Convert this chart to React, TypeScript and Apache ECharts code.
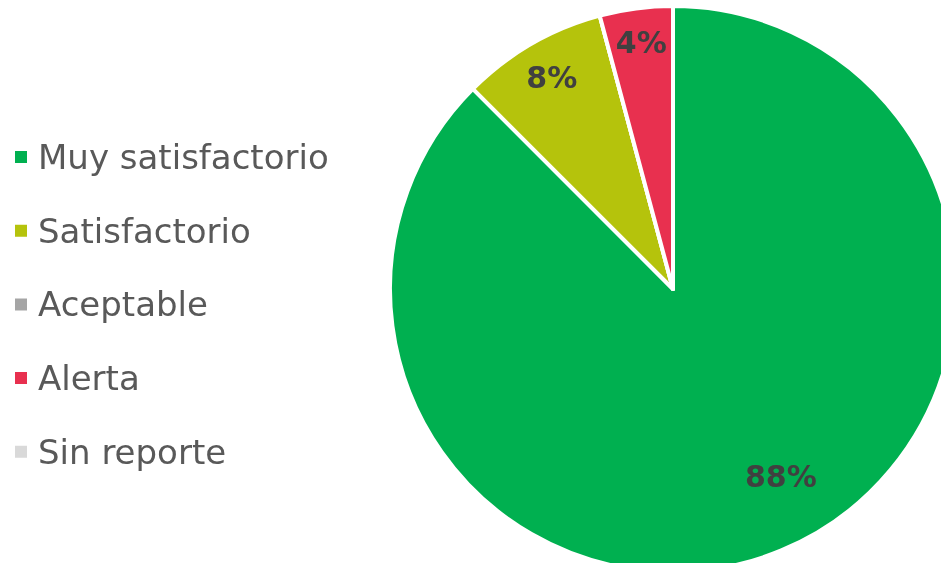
import React, { useEffect, useRef } from "react";
import * as echarts from "echarts";

const categories = ["Muy satisfactorio", "Satisfactorio", "Aceptable", "Alerta", "Sin reporte"];
const values = [21, 2, 0, 1, 0];
const colors = ["#00B050", "#B5C30C", "#A5A5A5", "#E8304F", "#D9D9D9"];

export default function App() {
  const ref = useRef<HTMLDivElement>(null);
  useEffect(() => {
    const chart = echarts.init(ref.current!, undefined, { renderer: "svg" });
    const fmt = (p: any) => (p.value > 0 ? Math.round(p.percent) + "%" : "");
    const labelOffsets: (number[] | null)[] = [[12, -44], [4, 5], null, [1, 2], null];
    chart.setOption({
      animation: false,
      color: colors,
      legend: {
        orient: "vertical",
        left: 8,
        top: 135,
        icon: "rect",
        itemWidth: 14,
        itemHeight: 14,
        itemGap: 39.7,
        data: categories,
        textStyle: {
          fontFamily: "DejaVu Sans",
          fontSize: 34,
          color: "#595959",
          lineHeight: 34,
          padding: [0, 0, 0, 5],
        },
      },
      series: [
        {
          type: "pie",
          center: [673, 289],
          radius: 283,
          startAngle: 90,
          clockwise: true,
          silent: true,
          itemStyle: { borderColor: "#ffffff", borderWidth: 4 },
          label: { show: false },
          labelLine: { show: false },
          data: categories.map((c, i) => ({ name: c, value: values[i] })),
        },
        {
          type: "pie",
          center: [673, 289],
          radius: [195, 300],
          startAngle: 90,
          clockwise: true,
          silent: true,
          legendHoverLink: false,
          itemStyle: { color: "transparent" },
          label: {
            show: true,
            position: "inside",
            formatter: fmt,
            fontFamily: "DejaVu Sans",
            fontWeight: "bold",
            fontSize: 30,
            color: "#404040",
          },
          labelLine: { show: false },
          data: categories.map((c, i) => ({
            name: c,
            value: values[i],
            label: labelOffsets[i] ? { offset: labelOffsets[i] } : undefined,
          })),
        },
      ],
    });
    return () => chart.dispose();
  }, []);
  return (
    <div
      ref={ref}
      style={{ position: "fixed", left: 0, top: 0, width: 941, height: 563 }}
    />
  );
}
